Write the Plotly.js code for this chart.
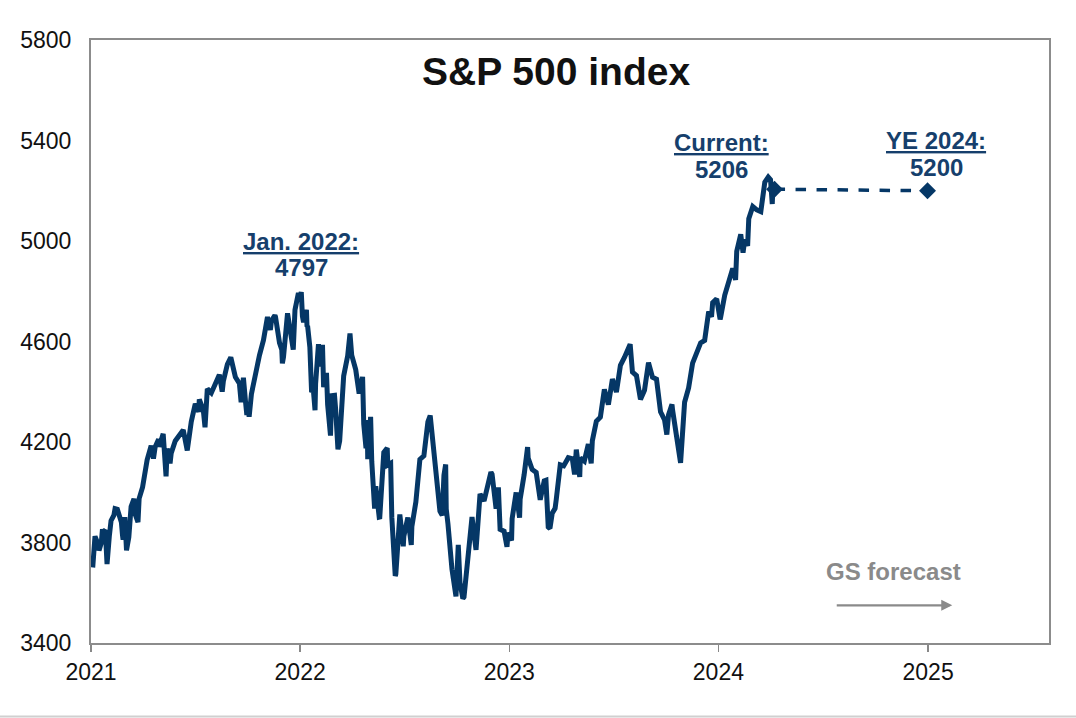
<!DOCTYPE html>
<html>
<head>
<meta charset="utf-8">
<script src="https://cdn.plot.ly/plotly-3.0.1.min.js"></script>
<style>
html,body{margin:0;padding:0;background:#fff;}
#chart{width:1076px;height:718px;}
</style>
</head>
<body>
<div id="chart"></div>
<script>
// S&P 500 index history
const dates = [
'2021-01-04','2021-01-06','2021-01-08','2021-01-12','2021-01-14','2021-01-15','2021-01-19','2021-01-21','2021-01-22','2021-01-26','2021-01-27','2021-01-28','2021-01-29',
'2021-02-02','2021-02-05','2021-02-10','2021-02-12','2021-02-16','2021-02-19','2021-02-23','2021-02-25','2021-02-26',
'2021-03-01','2021-03-04','2021-03-08','2021-03-11','2021-03-12','2021-03-17','2021-03-18','2021-03-19','2021-03-24','2021-03-26',
'2021-04-01','2021-04-05','2021-04-09','2021-04-16','2021-04-20','2021-04-23','2021-04-29','2021-04-30',
'2021-05-07','2021-05-12','2021-05-14','2021-05-19','2021-05-21','2021-05-28',
'2021-06-04','2021-06-11','2021-06-18','2021-06-25',
'2021-07-02','2021-07-08','2021-07-09','2021-07-16','2021-07-19','2021-07-23','2021-07-30',
'2021-08-06','2021-08-13','2021-08-18','2021-08-20','2021-08-27',
'2021-09-02','2021-09-10','2021-09-17','2021-09-20','2021-09-24','2021-09-28','2021-09-30',
'2021-10-01','2021-10-04','2021-10-08','2021-10-15','2021-10-22','2021-10-29',
'2021-11-05','2021-11-10','2021-11-12','2021-11-18','2021-11-19','2021-11-26','2021-11-30',
'2021-12-01','2021-12-03','2021-12-10','2021-12-17','2021-12-20','2021-12-23','2021-12-29','2021-12-31',
'2022-01-03','2022-01-05','2022-01-07','2022-01-12','2022-01-13','2022-01-14','2022-01-18','2022-01-21','2022-01-24','2022-01-27','2022-01-28',
'2022-02-02','2022-02-04','2022-02-09','2022-02-11','2022-02-16','2022-02-18','2022-02-23','2022-02-25',
'2022-03-02','2022-03-04','2022-03-08','2022-03-11','2022-03-16','2022-03-18','2022-03-25','2022-03-29',
'2022-04-01','2022-04-08','2022-04-14','2022-04-20','2022-04-22','2022-04-26','2022-04-28','2022-04-29',
'2022-05-04','2022-05-06','2022-05-11','2022-05-13','2022-05-19','2022-05-20','2022-05-27',
'2022-06-02','2022-06-03','2022-06-08','2022-06-10','2022-06-16','2022-06-17','2022-06-24','2022-06-30',
'2022-07-01','2022-07-08','2022-07-14','2022-07-15','2022-07-22','2022-07-29',
'2022-08-05','2022-08-12','2022-08-16','2022-08-19','2022-08-26',
'2022-09-02','2022-09-06','2022-09-09','2022-09-12','2022-09-13','2022-09-16','2022-09-23','2022-09-30',
'2022-10-04','2022-10-07','2022-10-12','2022-10-14','2022-10-21','2022-10-28',
'2022-11-04','2022-11-10','2022-11-11','2022-11-18','2022-11-25','2022-11-30',
'2022-12-02','2022-12-09','2022-12-13','2022-12-16','2022-12-23','2022-12-28','2022-12-30',
'2023-01-05','2023-01-06','2023-01-13','2023-01-19','2023-01-20','2023-01-27',
'2023-02-02','2023-02-03','2023-02-10','2023-02-17','2023-02-24',
'2023-03-03','2023-03-06','2023-03-10','2023-03-13','2023-03-17','2023-03-22','2023-03-24','2023-03-31',
'2023-04-06','2023-04-14','2023-04-21','2023-04-25','2023-04-28',
'2023-05-04','2023-05-05','2023-05-12','2023-05-19','2023-05-24','2023-05-26',
'2023-06-02','2023-06-09','2023-06-16','2023-06-23','2023-06-30',
'2023-07-07','2023-07-14','2023-07-21','2023-07-28','2023-07-31',
'2023-08-04','2023-08-11','2023-08-18','2023-08-25',
'2023-09-01','2023-09-08','2023-09-15','2023-09-22','2023-09-29',
'2023-10-03','2023-10-06','2023-10-12','2023-10-13','2023-10-20','2023-10-27',
'2023-11-03','2023-11-10','2023-11-17','2023-11-24',
'2023-12-01','2023-12-08','2023-12-15','2023-12-20','2023-12-22','2023-12-29',
'2024-01-04','2024-01-05','2024-01-12','2024-01-19','2024-01-26','2024-01-31',
'2024-02-02','2024-02-09','2024-02-13','2024-02-16','2024-02-21','2024-02-23',
'2024-03-01','2024-03-08','2024-03-15','2024-03-22','2024-03-28',
'2024-04-01','2024-04-04','2024-04-05','2024-04-08'
];
const spx = [
3700.65,3748,3824.68,3801,3795,3768.25,3799,3853,3841.47,3849,3750.77,3787,3714.24,
3826,3886.83,3909,3934.83,3932,3906.71,3881,3829,3811.15,
3901,3768.47,3821,3939,3943.34,3974,3915,3913.10,3881,3974.54,
4019.87,4077,4128.80,4185.47,4134,4180.17,4211,4181.17,
4232.60,4063.04,4173.85,4115,4155.86,4204.11,
4229.89,4247.44,4166.45,4280.70,
4352.34,4320,4369.55,4327.16,4258.49,4411.79,4395.26,
4436.52,4468.00,4400.27,4441.67,4509.37,
4536.95,4458.58,4432.99,4357.73,4455.48,4352.63,4307.54,
4357.04,4300.46,4391.34,4471.37,4544.90,4605.38,
4697.53,4646,4682.85,4704.54,4697.96,4594.62,4567.00,
4513.04,4538.43,4712.02,4620.64,4568.02,4725.79,4793.06,4766.18,
4796.56,4700.58,4677.03,4726,4659,4662.85,4577,4397.94,4410,4326.51,4431.85,
4589.38,4500.53,4587.18,4418.64,4475,4348.87,4225.50,4384.65,
4386,4328.87,4170.70,4204.31,4357,4463.12,4543.06,4631.60,
4545.86,4488.28,4392.59,4459,4271.78,4175,4287,4131.93,
4300,4123.34,3935.18,4023.89,3900.79,3901.36,4158.24,
4176,4108.54,4115,3900.86,3666.77,3674.84,3911.74,3785,
3825.33,3899.38,3790,3863.16,3961.63,4130.29,
4145.19,4280.15,4305.20,4228.48,4057.66,
3924.26,3908,4067.36,4110.41,3932.69,3873.33,3693.23,3585.62,
3790.93,3639.66,3577.03,3583.07,3752.75,3901.06,
3770.55,3956.37,3992.93,3965.34,4026.12,4080.11,
4071.70,3934.38,4019.65,3852.36,3844.82,3783.22,3839.50,
3808.10,3895.08,3999.09,3898.85,3972.61,4070.56,
4179.76,4136.48,4090.46,4079.09,3970.04,
4045.64,4048,3861.59,3855.76,3916.64,3936,3970.99,4109.31,
4105.02,4137.64,4133.52,4071,4169.48,
4061,4136.25,4124.08,4191.98,4115,4205.45,
4282.37,4298.86,4409.59,4348.33,4450.38,
4398.95,4505.42,4536.34,4582.23,4588.96,
4478.03,4464.05,4369.71,4405.71,
4515.77,4457.49,4450.32,4320.06,4288.05,
4229.45,4308.50,4349.61,4327.78,4224.16,4117.37,
4358.34,4415.24,4514.02,4559.34,
4594.63,4604.37,4719.19,4698,4754.63,4769.83,
4688,4697.24,4783.83,4839.81,4890.97,4845.65,
4958.61,5026.61,4953.17,5005.57,4981,5088.80,
5137.08,5123.69,5117.09,5234.18,5254.35,
5243.77,5147.21,5204.34,5206
];
// GS forecast
const fcDates = ['2024-04-08','2024-12-31'];
const fcValues = [5206, 5200];
// Axis ticks
const yTicks = [3400,3800,4200,4600,5000,5400,5800];
const xTickVals = ['2021-01-01','2022-01-01','2023-01-01','2024-01-01','2025-01-01'];
const xTickText = ['2021','2022','2023','2024','2025'];
// Callouts
const peakLabel = {date:'2022-01-03', title:'Jan. 2022:', value:'4797'};
const currLabel = {date:'2024-01-06', title:'Current:', value:'5206'};
const yeLabel = {date:'2025-01-15', title:'YE 2024:', value:'5200'};

const NAVY = '#053766';
const TXT = '#163f6c';
const FONT = 'Liberation Sans, Arial, sans-serif';

const traces = [
  {x: dates, y: spx, type:'scatter', mode:'lines',
   line:{color:NAVY, width:5, shape:'linear'}, hoverinfo:'skip'},
  {x: fcDates, y: fcValues, type:'scatter', mode:'lines+markers',
   line:{color:NAVY, width:3.5, dash:'dash'},
   marker:{symbol:'diamond', size:13, color:NAVY}, hoverinfo:'skip'}
];

function callout(c, yTitle, yVal){
  return [
    {x:c.date, xref:'x', y:yTitle, yref:'y', text:'<b><u>'+c.title+'</u></b>', showarrow:false,
     font:{family:FONT, size:24, color:TXT}, xanchor:'center', yanchor:'middle'},
    {x:c.date, xref:'x', y:yVal, yref:'y', text:'<b>'+c.value+'</b>', showarrow:false,
     font:{family:FONT, size:24, color:TXT}, xanchor:'center', yanchor:'middle'}
  ];
}

const annotations = [
  {x:0.485, xref:'paper', y:5673, yref:'y', text:'<b>S&P 500 index</b>', showarrow:false,
   font:{family:FONT, size:39, color:'#111'}, xanchor:'center', yanchor:'middle'},
  ...callout(peakLabel, 5000, 4893),
  ...callout(currLabel, 5394, 5283),
  ...callout(yeLabel, 5402, 5291),
  {x:0.838, xref:'paper', y:3683, yref:'y', text:'<b>GS forecast</b>', showarrow:false,
   font:{family:FONT, size:24, color:'#8a8a8a'}, xanchor:'center', yanchor:'middle'},
  {x:0.899, xref:'paper', y:3550, yref:'y', ax:-117, ay:0, text:'', showarrow:true,
   arrowhead:2, arrowsize:1, arrowwidth:2.2, arrowcolor:'#8a8a8a'}
];

const layout = {
  width:1076, height:718,
  margin:{l:91, r:27, t:40, b:75},
  paper_bgcolor:'#fff', plot_bgcolor:'#fff',
  showlegend:false,
  font:{family:FONT, color:'#222', size:23},
  xaxis:{type:'date', range:['2021-01-01','2025-07-31'],
    tickvals:xTickVals, ticktext:xTickText,
    ticks:'outside', ticklen:7, tickwidth:1.5, tickcolor:'#888',
    showgrid:false, zeroline:false,
    showline:true, mirror:true, linecolor:'#8c8c8c', linewidth:2,
    tickfont:{family:FONT, size:23, color:'#111'}},
  yaxis:{range:[3400,5800], tickvals:yTicks,
    showgrid:false, zeroline:false, ticks:'',
    showline:true, mirror:true, linecolor:'#8c8c8c', linewidth:2,
    ticklabelstandoff:13,
    tickfont:{family:FONT, size:23, color:'#111'}},
  annotations: annotations,
  shapes:[
    {type:'line', xref:'paper', yref:'paper', x0:-0.1, x1:1.03, y0:-0.122, y1:-0.122,
     line:{color:'#d0d0d0', width:2}}
  ]
};

Plotly.newPlot('chart', traces, layout, {staticPlot:true, displayModeBar:false});
</script>
</body>
</html>
